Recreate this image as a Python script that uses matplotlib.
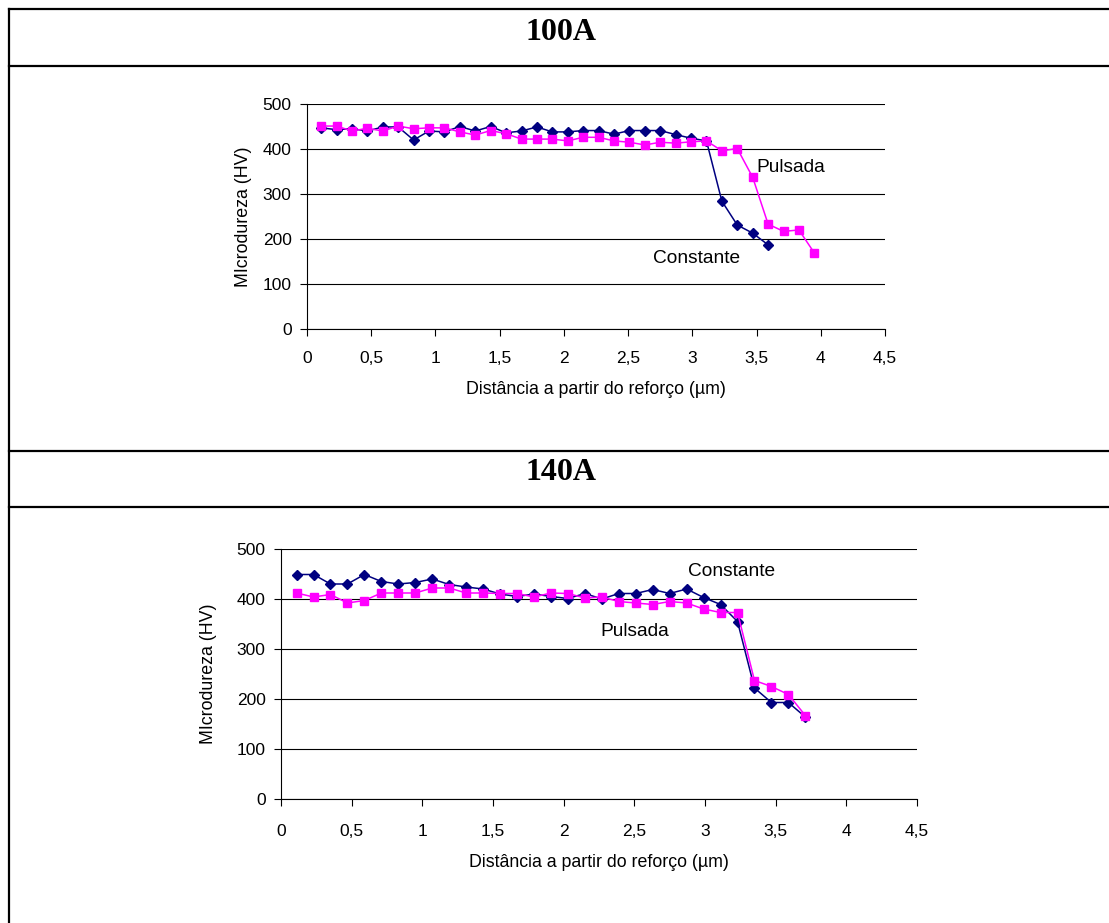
import matplotlib

matplotlib.use("Agg")

import matplotlib.pyplot as plt
from matplotlib.lines import Line2D
from matplotlib.ticker import FuncFormatter

plt.rcParams["font.family"] = ["Liberation Sans", "DejaVu Sans"]

# distance step between indentations (um)
STEP = 0.12
START = 0.11

# 100A
hv_100_constante = [447, 443, 445, 440, 449, 449, 420, 440, 438, 450,
                    440, 450, 436, 440, 449, 438, 438, 441, 441, 433,
                    441, 441, 441, 432, 424, 418, 284, 231, 213, 187]
hv_100_pulsada = [451, 451, 440, 446, 440, 451, 445, 447, 447, 438,
                  431, 441, 434, 422, 422, 422, 418, 426, 426, 418,
                  415, 409, 415, 413, 416, 418, 396, 401, 337, 233,
                  217, 220, 169]

# 140A
hv_140_constante = [449, 449, 430, 430, 449, 435, 430, 433, 440, 429,
                    424, 420, 410, 405, 410, 405, 401, 411, 400, 411,
                    411, 419, 411, 420, 403, 389, 355, 222, 193, 193,
                    164]
hv_140_pulsada = [412, 404, 409, 392, 397, 412, 412, 412, 422, 422,
                  412, 412, 411, 411, 404, 412, 411, 402, 404, 395,
                  392, 389, 395, 392, 380, 373, 373, 237, 225, 209,
                  167]

x_ticks = [0, 0.5, 1, 1.5, 2, 2.5, 3, 3.5, 4, 4.5]
y_ticks = [0, 100, 200, 300, 400, 500]

NAVY = "#000080"
MAGENTA = "#FF00FF"


def distances(values):
    return [START + STEP * i for i in range(len(values))]


def comma(value, _pos):
    text = f"{value:g}"
    return text.replace(".", ",")


def draw_chart(ax, constante, pulsada, labels, xpad, ylabelpad):
    ax.plot(distances(constante), constante, color=NAVY, marker="D", markersize=5.2,
            linewidth=1.1, zorder=3)
    ax.plot(distances(pulsada), pulsada, color=MAGENTA, marker="s", markersize=6,
            linewidth=1.1, zorder=3)
    ax.set_xlim(0, 4.5)
    ax.set_ylim(0, 500)
    ax.set_xticks(x_ticks)
    ax.set_yticks(y_ticks)
    ax.xaxis.set_major_formatter(FuncFormatter(comma))
    ax.grid(axis="y", color="black", linewidth=0.8)
    ax.set_axisbelow(True)
    for side in ["top", "right"]:
        ax.spines[side].set_visible(False)
    ax.spines["left"].set_color("black")
    ax.spines["bottom"].set_color("black")
    ax.tick_params(direction="out", length=5, labelsize=12.5, color="black", pad=6)
    ax.tick_params(axis="x", pad=xpad)
    ax.set_xlabel("Distância a partir do reforço (µm)", fontsize=12.8, labelpad=11)
    ax.set_ylabel("MIcrodureza (HV)", fontsize=12.8, labelpad=ylabelpad)
    for text, x, y in labels:
        ax.text(x, y, text, fontsize=13.8, ha="left", va="center")


fig = plt.figure(figsize=(11.09, 9.23), dpi=100)
fig.patch.set_facecolor("white")

W, H = 1109.0, 923.0

# table frame
for y in [9, 66, 451, 507]:
    fig.add_artist(Line2D([9 / W, 1.0], [1 - y / H, 1 - y / H], color="black", linewidth=1.6))
fig.add_artist(Line2D([9 / W, 9 / W], [1 - 9 / H, 0], color="black", linewidth=1.6))

fig.text(561 / W, 1 - 32 / H, "100A", family="Liberation Serif", fontweight="bold",
         fontsize=23, ha="center", va="center")
fig.text(561 / W, 1 - 472 / H, "140A", family="Liberation Serif", fontweight="bold",
         fontsize=23, ha="center", va="center")

ax1 = fig.add_axes([307 / W, 1 - 329 / H, 578 / W, 225 / H])
draw_chart(ax1, hv_100_constante, hv_100_pulsada,
           [("Pulsada", 3.50, 360), ("Constante", 2.69, 156)], xpad=11, ylabelpad=8)

ax2 = fig.add_axes([281 / W, 1 - 799 / H, 636 / W, 250 / H])
draw_chart(ax2, hv_140_constante, hv_140_pulsada,
           [("Constante", 2.88, 454), ("Pulsada", 2.26, 336)], xpad=13, ylabelpad=14)

fig.savefig("out.png", dpi=100)
plt.close(fig)
